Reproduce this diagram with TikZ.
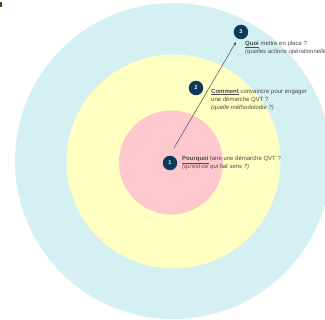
\documentclass[tikz,border=0pt]{standalone}
\usepackage{fontspec}
\setmainfont{Liberation Sans}
\usetikzlibrary{arrows.meta}

\definecolor{ciel}{HTML}{D4F0F2}
\definecolor{paille}{HTML}{FFFFC2}
\definecolor{rose}{HTML}{FFC7CE}
\definecolor{marine}{HTML}{0C3A5A}
\definecolor{gristexte}{HTML}{4A4A4A}
\definecolor{sapin}{HTML}{2F5A1F}

\begin{document}
\begin{tikzpicture}[x=1pt,y=-1pt,
    pastille/.style={circle, fill=marine, text=white, minimum size=14.5pt, inner sep=0pt,
        font=\fontsize{5.5}{6}\selectfont\bfseries},
    legende/.style={anchor=north west, inner sep=0pt, align=left, text=gristexte,
        font=\fontsize{6}{8}\selectfont},
    fleche/.style={-{Stealth[length=3.5pt,width=2.8pt]}, draw=gristexte, line width=0.5pt}]
            \useasboundingbox (0,0) rectangle (325,320);
            \clip (0,0) rectangle (325,320);
            \fill[white] (0,0) rectangle (325,320);
            \fill[ciel] (173,161) circle[radius=158pt];
            \fill[paille] (173.5,161.5) circle[radius=107pt];
            \fill[rose] (171,162.5) circle[radius=52pt];
            \fill[sapin] (0,2) rectangle (2.5,7);
            \node[pastille] (p1) at (170,163) {1};
            \node[pastille] (p2) at (196,88) {2};
            \node[pastille] (p3) at (241,32) {3};
            \coordinate (depart) at (174,148);
            \coordinate (arrivee) at (236,42);
            \draw[fleche] (depart) -- (arrivee);
            \node[legende] (t1) at (182,155.5) {\underline{\textbf{Pourquoi}} faire une démarche QVT ?\\
                \textit{(qu'est-ce qui fait sens ?)}};
            \node[legende] (t2) at (211,88.5) {\underline{\textbf{Comment}} convaincre pour engager\\
                une démarche QVT ?\\ \textit{(quelle méthodolodie ?)}};
            \node[legende] (t3) at (245,40.5) {\underline{\textbf{Quoi}} mettre en place ?\\
                \textit{(quelles actions opérationnelles ?)}};
        \end{tikzpicture}
\end{document}
